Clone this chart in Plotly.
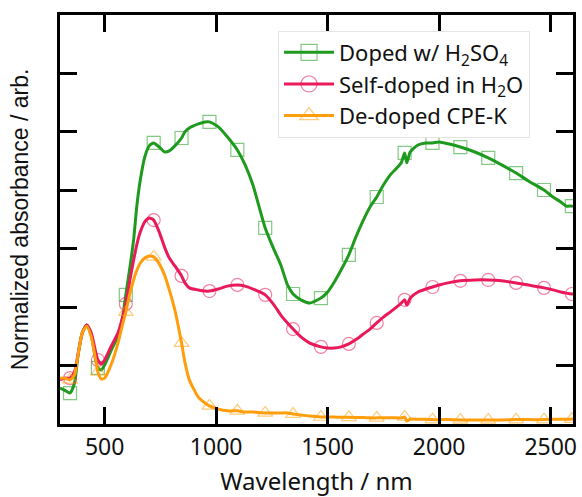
import plotly.graph_objects as go

# Wavelength grid (nm) shared by the three spectra
WL = [300, 320, 345, 365, 380, 400, 420, 440, 460, 470, 485, 500, 530, 560, 580, 595,
      615, 630, 645, 660, 680, 700, 720, 745, 770, 790, 815, 845, 860, 880, 920, 950,
      970, 1010, 1050, 1095, 1130, 1165, 1220, 1260, 1290, 1320, 1345, 1380, 1420, 1470,
      1500, 1530, 1560, 1595, 1625, 1660, 1690, 1720, 1750, 1780, 1810, 1830, 1845, 1855,
      1870, 1905, 1940, 1970, 2000, 2040, 2095, 2160, 2220, 2280, 2345, 2400, 2470, 2510,
      2545, 2570, 2595, 2600]

DOPED_H2SO4 = [0.123, 0.116, 0.106, 0.140, 0.229, 0.312, 0.339, 0.305, 0.219, 0.192, 0.185,
               0.202, 0.253, 0.301, 0.363, 0.442, 0.544, 0.630, 0.750, 0.835, 0.914, 0.952,
               0.962, 0.948, 0.931, 0.935, 0.952, 0.979, 1.000, 1.013, 1.027, 1.034, 1.034,
               1.017, 0.983, 0.938, 0.887, 0.818, 0.671, 0.596, 0.544, 0.476, 0.445, 0.425,
               0.414, 0.431, 0.452, 0.486, 0.527, 0.579, 0.637, 0.698, 0.743, 0.777, 0.818,
               0.852, 0.876, 0.894, 0.928, 0.894, 0.931, 0.955, 0.962, 0.962, 0.965, 0.959,
               0.948, 0.931, 0.911, 0.887, 0.859, 0.832, 0.801, 0.777, 0.760, 0.746, 0.746,
               0.743]

SELF_DOPED_H2O = [0.151, 0.157, 0.157, 0.178, 0.236, 0.312, 0.339, 0.312, 0.246, 0.219, 0.205,
                  0.219, 0.267, 0.312, 0.363, 0.411, 0.500, 0.561, 0.616, 0.657, 0.692, 0.705,
                  0.698, 0.657, 0.603, 0.568, 0.541, 0.507, 0.483, 0.466, 0.459, 0.455, 0.455,
                  0.462, 0.472, 0.476, 0.472, 0.462, 0.442, 0.407, 0.373, 0.346, 0.325, 0.298,
                  0.277, 0.264, 0.260, 0.260, 0.264, 0.274, 0.288, 0.308, 0.325, 0.346, 0.366,
                  0.383, 0.401, 0.414, 0.425, 0.407, 0.431, 0.452, 0.462, 0.469, 0.476, 0.483,
                  0.490, 0.493, 0.493, 0.490, 0.483, 0.476, 0.466, 0.459, 0.452, 0.448, 0.445,
                  0.445]

DEDOPED_CPEK = [0.157, 0.157, 0.151, 0.168, 0.233, 0.312, 0.335, 0.298, 0.219, 0.178, 0.154,
                0.157, 0.205, 0.277, 0.339, 0.383, 0.452, 0.493, 0.527, 0.551, 0.568, 0.575,
                0.572, 0.548, 0.507, 0.459, 0.390, 0.277, 0.212, 0.151, 0.092, 0.072, 0.062,
                0.051, 0.045, 0.045, 0.041, 0.041, 0.038, 0.038, 0.038, 0.038, 0.034, 0.031,
                0.027, 0.024, 0.024, 0.024, 0.023, 0.023, 0.022, 0.022, 0.021, 0.021, 0.021,
                0.021, 0.021, 0.021, 0.024, 0.010, 0.017, 0.016, 0.016, 0.015, 0.015, 0.015,
                0.014, 0.014, 0.014, 0.014, 0.015, 0.015, 0.015, 0.016, 0.016, 0.016, 0.017,
                0.017]

MARKER_WL = [345, 470, 595, 720, 845, 970, 1095, 1220, 1345, 1470, 1595, 1720, 1845,
             1970, 2095, 2220, 2345, 2470, 2595]

X_TICKS = [500, 1000, 1500, 2000, 2500]

SERIES = [
    ("Doped w/ H<sub>2</sub>SO<sub>4</sub>", DOPED_H2SO4, "#1e9a1e", "rgba(30,154,30,0.55)", "square-open"),
    ("Self-doped in H<sub>2</sub>O", SELF_DOPED_H2O, "#ea1a5a", "rgba(234,26,90,0.55)", "circle-open"),
    ("De-doped CPE-K", DEDOPED_CPEK, "#ff9e0d", "rgba(255,158,13,0.55)", "triangle-up-open"),
]

FONT = "Noto Sans"
idx = [i for i, w in enumerate(WL) if w in MARKER_WL]

fig = go.Figure()
for k, (name, vals, lc, mc, sym) in enumerate(SERIES):
    fig.add_trace(go.Scatter(x=WL, y=vals, mode="lines", line=dict(color=lc, width=3, shape="spline", smoothing=0.6),
                             showlegend=False, legendgroup=str(k), hoverinfo="skip"))
    fig.add_trace(go.Scatter(x=[WL[i] for i in idx], y=[vals[i] for i in idx], mode="markers",
                             marker=dict(symbol=sym, size=13, color=mc, line=dict(width=1.2, color=mc)),
                             showlegend=False, legendgroup=str(k)))
    fig.add_trace(go.Scatter(x=[None], y=[None], mode="lines+markers", name=name, legendgroup=str(k),
                             line=dict(color=lc, width=3),
                             marker=dict(symbol=sym, size=17, color=mc, line=dict(width=1.2, color=mc))))

axis_common = dict(showline=True, linecolor="black", linewidth=3, mirror="ticks",
                   ticks="inside", ticklen=17, tickwidth=3, tickcolor="black",
                   showgrid=False, zeroline=False, automargin=False)

fig.update_layout(
    width=582, height=497,
    margin=dict(l=60, r=9, t=15, b=73),
    paper_bgcolor="white", plot_bgcolor="white",
    font=dict(family=FONT, size=22, color="#111"),
    xaxis=dict(range=[300, 2600], tickvals=X_TICKS, ticktext=[str(t) for t in X_TICKS],
               title=dict(text="Wavelength / nm", standoff=18, font=dict(size=24)),
               tickfont=dict(size=23), **axis_common),
    yaxis=dict(range=[0, 1.4], dtick=0.2, showticklabels=False,
               title=dict(text="Normalized absorbance / arb.", standoff=22,
                          font=dict(size=23, family="Liberation Sans")),
               **axis_common),
    legend=dict(x=0.425, y=0.962, xanchor="left", yanchor="top", bgcolor="white",
                bordercolor="#e4e4e4", borderwidth=1, font=dict(size=22), itemwidth=50,
                tracegroupgap=0),
)

fig.write_html("out.html", config={"displayModeBar": False},
               post_script="document.body.style.margin='0';")
